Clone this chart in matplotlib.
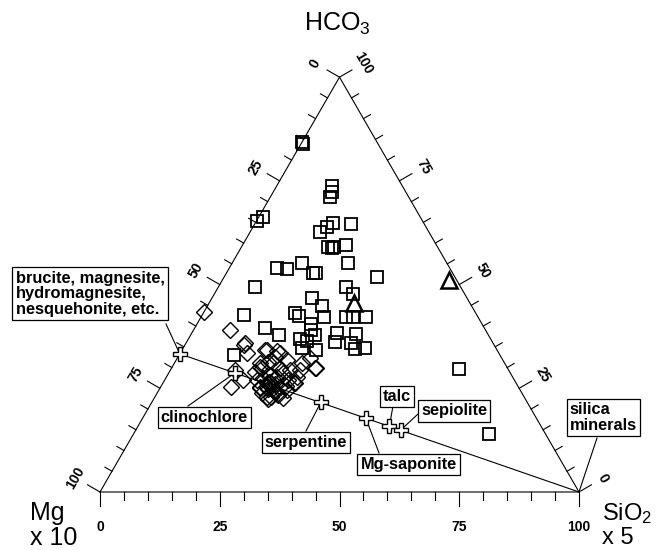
import numpy as np
import matplotlib
matplotlib.use('Agg')
import matplotlib.pyplot as plt

plt.rcParams['font.family'] = ['Liberation Sans', 'DejaVu Sans']
plt.rcParams['mathtext.default'] = 'regular'

# ternary data in percent: SiO2 x 5 (bottom axis) and HCO3 (right axis); Mg x 10 = rest
sq_sio2 = [0.0, 0.3, 0.9, 0.0, 11.5, 12.2, 12.4, 16.2, 15.5, 14.6, 20.1, 18.1, 19.0, 19.3,
           21.6, 24.2, 10.0, 12.1, 14.6, 18.1, 18.7, 31.8, 7.7, 26.8, 29.0, 21.0, 23.9, 19.1,
           20.3, 8.7, 25.6, 30.3, 31.7, 34.5, 23.8, 24.5, 14.7, 18.5, 26.0, 23.4, 30.2, 31.0,
           34.4, 34.3, 36.0, 38.0, 28.0, 24.8, 60.2, 74.3, 11.5, 25.0]
sq_hco3 = [84.3, 84.0, 66.4, 65.4, 73.7, 72.4, 71.2, 64.8, 63.9, 62.6, 64.5, 59.1, 58.7, 59.0,
           59.6, 55.1, 54.1, 53.7, 55.1, 52.9, 52.9, 51.9, 49.3, 49.3, 47.7, 46.7, 44.8, 43.1,
           42.5, 42.7, 42.2, 42.3, 42.3, 42.1, 40.5, 39.0, 39.5, 37.8, 37.8, 36.8, 38.4, 36.2,
           38.1, 36.0, 34.4, 34.6, 34.2, 34.6, 29.6, 13.9, 33.0, 36.5]

dia_sio2 = [0.0, 7.6, 12.3, 13.9, 17.3, 20.0, 13.5, 14.8, 16.4, 18.3, 27.6, 27.1, 30.2, 22.3,
            18.9, 19.4, 20.2, 20.9, 23.1, 22.7, 21.4, 20.4, 23.0, 24.0, 25.0, 22.1, 23.7, 24.9,
            26.7, 24.3, 25.5, 21.9, 19.2, 27.3, 17.9, 27.2, 27.0, 23.3, 20.7, 12.4, 17.7, 27.7,
            30.0, 26.6, 17.9, 20.7, 22.0, 25.8, 24.6, 21.0, 23.5, 24.2, 22.6, 25.1, 21.8, 23.9,
            26.0, 22.9]
dia_hco3 = [43.3, 39.0, 35.4, 33.4, 34.2, 33.9, 29.4, 25.3, 27.0, 30.2, 26.2, 29.4, 29.8, 26.4,
            29.8, 31.4, 32.6, 33.4, 31.8, 29.8, 28.2, 27.4, 27.8, 28.6, 29.4, 25.4, 25.0, 25.4,
            24.6, 23.0, 23.4, 23.8, 27.0, 26.2, 29.0, 27.8, 22.6, 23.0, 25.4, 35.8, 34.2, 32.2,
            29.8, 31.0, 31.0, 31.0, 26.5, 27.0, 24.0, 25.0, 26.0, 24.4, 24.8, 23.6, 26.2, 22.5,
            25.6, 27.4]

tri_sio2 = [30.2, 47.4]
tri_hco3 = [45.6, 51.0]

minerals = ['brucite, magnesite,\nhydromagnesite,\nnesquehonite, etc.', 'clinochlore',
            'serpentine', 'Mg-saponite', 'talc', 'sepiolite']
min_sio2 = [0.0, 13.8, 35.3, 46.6, 52.5, 55.3]
min_hco3 = [33.3, 28.7, 21.6, 17.8, 15.8, 14.9]

ticks = np.arange(0, 101, 5)
major = [0, 25, 50, 75, 100]

R3 = np.sqrt(3) / 2


def cart(s, h):
    s = np.asarray(s, float)
    h = np.asarray(h, float)
    return s + h / 2, h * R3


fig = plt.figure(figsize=(6.61, 5.5), dpi=100)
ax = fig.add_axes([0, 0, 1, 1])
ax.set_xlim(-20.88, 117.12)
ax.set_ylim(-12.11, 102.71)
ax.axis('off')

# triangle
ax.plot([0, 100, 50, 0], [0, 0, 100 * R3, 0], color='black', lw=0.8, zorder=2)

tick_kw = dict(fontsize=10, fontweight='bold', ha='center', va='center')
for v in ticks:
    L = 3.0 if v in major else 1.7
    # bottom axis (SiO2)
    ax.plot([v, v], [0, -L], color='black', lw=0.8)
    # left edge (Mg)
    x0, y0 = cart(0, 100 - v)
    ax.plot([x0, x0 - L * R3], [y0, y0 + L * 0.5], color='black', lw=0.8)
    # right edge (HCO3)
    x1, y1 = cart(100 - v, v)
    ax.plot([x1, x1 + L * R3], [y1, y1 + L * 0.5], color='black', lw=0.8)
    if v in major:
        ax.text(v, -7.3, str(v), **tick_kw)
        ax.text(x0 - 5.8 * R3, y0 + 5.8 * 0.5, str(v), rotation=60, **tick_kw)
        ax.text(x1 + 5.8 * R3, y1 + 5.8 * 0.5, str(v), rotation=-60, **tick_kw)

# tie line from Mg-HCO3 edge to silica vertex
bx, by = cart(min_sio2[0], min_hco3[0])
ax.plot([bx, 100], [by, 0], color='black', lw=0.8, zorder=2)

# samples
x, y = cart(sq_sio2, sq_hco3)
ax.plot(x, y, 's', ms=8.2, mfc='none', mec='black', mew=1.3, zorder=3)
x, y = cart(dia_sio2, dia_hco3)
ax.plot(x, y, 'D', ms=8.4, mfc='none', mec='black', mew=1.0, zorder=3)
x, y = cart(tri_sio2, tri_hco3)
ax.plot(x, y, '^', ms=11, mfc='none', mec='black', mew=1.8, zorder=3)

# mineral labels
box = dict(boxstyle='square,pad=0.2', fc='white', ec='black', lw=0.9)
label_pos = [(-17.6, 41.4), (21.8, 15.55), (43.0, 10.33), (64.4, 5.74), (62.0, 19.94), (73.9, 16.91)]
leader_from = [(13.78, 35.07), (18.37, 17.95), (43.0, 12.73), (58.25, 8.14), (61.17, 17.95), (66.39, 16.28)]
mx, my = cart(min_sio2, min_hco3)
for i, name in enumerate(minerals):
    lx, ly = leader_from[i]
    ax.plot([lx, mx[i]], [ly, my[i]], color='black', lw=0.8, zorder=2)
    ha = 'left' if i == 0 else 'center'
    ax.text(label_pos[i][0], label_pos[i][1], name, fontsize=11.8, fontweight='bold', ha=ha,
            va='center', linespacing=1.05, bbox=box, zorder=5)
ax.plot(mx, my, 'P', ms=10, mfc='white', mec='black', mew=1.0, zorder=4)

ax.plot([103.76, 100], [11.27, 0], color='black', lw=0.8, zorder=2)
ax.text(98.1, 15.55, 'silica\nminerals', fontsize=11.8, fontweight='bold', ha='left',
        va='center', linespacing=1.1, bbox=box, zorder=5)

# corner labels
ax.text(49.5, 97.7, 'HCO$_3$', fontsize=18, ha='center', va='center')
ax.text(-14.6, -1.8, 'Mg\nx 10', fontsize=18, ha='left', va='top', linespacing=1.05)
ax.text(104.9, -1.8, 'SiO$_2$\nx 5', fontsize=17, ha='left', va='top', linespacing=1.1)

fig.savefig('out.png', dpi=100)
